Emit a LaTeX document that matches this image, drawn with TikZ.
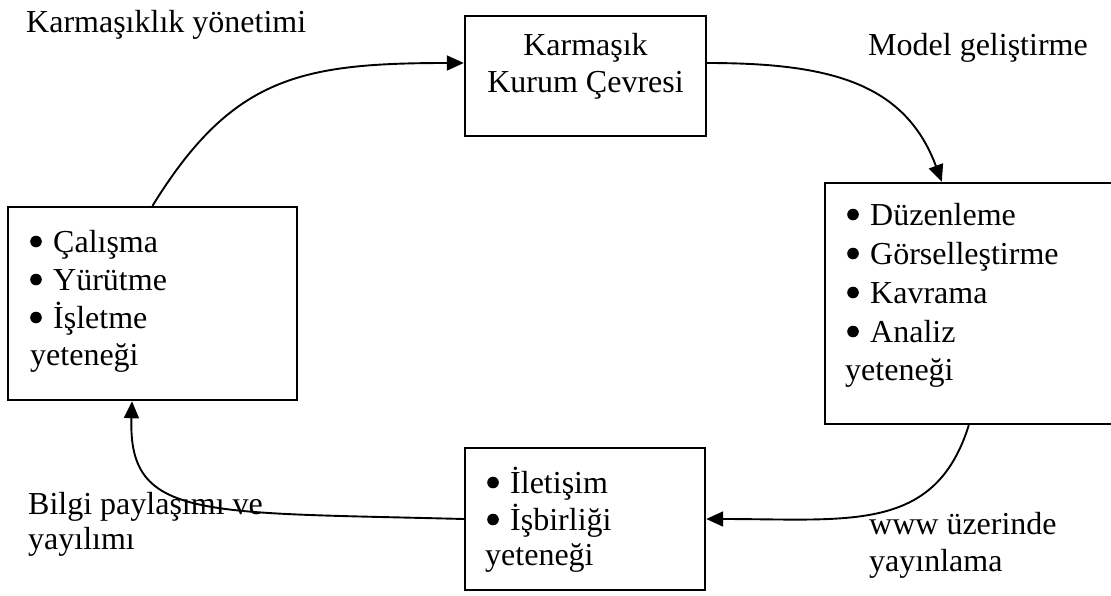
\documentclass[tikz,border=0pt]{standalone}
\usepackage{fontspec}
\setmainfont{Liberation Serif}
\usetikzlibrary{arrows.meta}
% round bullet followed by a fixed gap before the item text
\newcommand\itembul{\makebox[23pt][l]{\tikz[baseline=0pt,x=1pt,y=1pt]\fill (5.8,10.5) circle[radius=5.8];}}
\begin{document}
\begin{tikzpicture}[x=1pt,y=-1pt,
  box/.style={draw,line width=2.4pt,inner sep=0pt,rectangle},
  txt/.style={inner sep=0pt,anchor=base west,font=\fontsize{32}{38}\selectfont},
  ctxt/.style={txt,anchor=base},
  link/.style={line width=1.9pt,-{Triangle[length=17pt,width=15pt]}}]
\useasboundingbox (0,0) rectangle (1111,595);
\fill[white] (0,0) rectangle (1111,595);
\clip (0,0) rectangle (1111,595);

% boxes
\node[box,minimum width=241pt,minimum height=120pt] (T) at (585.5,76) {};
\node[box,minimum width=289pt,minimum height=193pt] (L) at (152.5,303.5) {};
\node[box,minimum width=310pt,minimum height=241pt] (R) at (980,303.5) {};
\node[box,minimum width=240pt,minimum height=142pt] (B) at (585,519) {};

% text of the top box
\node[ctxt] (t1) at (585.5,55) {Karmaşık};
\node[ctxt] (t2) at (585.5,92) {Kurum Çevresi};

% text of the left box
\node[txt] (l1) at (30,252) {\itembul Çalışma};
\node[txt] (l2) at (30,290) {\itembul Yürütme};
\node[txt] (l3) at (30,328) {\itembul İşletme};
\node[txt] (l4) at (30,365) {yeteneği};

% text of the right box
\node[txt] (r1) at (847,225) {\itembul Düzenleme};
\node[txt] (r2) at (847,264) {\itembul Görselleştirme};
\node[txt] (r3) at (847,303) {\itembul Kavrama};
\node[txt] (r4) at (847,342) {\itembul Analiz};
\node[txt] (r5) at (845,380) {yeteneği};

% text of the bottom box
\node[txt] (b1) at (487,493) {\itembul İletişim};
\node[txt] (b2) at (487,530) {\itembul İşbirliği};
\node[txt] (b3) at (485,565) {yeteneği};

% labels of the cycle steps
\node[txt] (k1) at (26,32) {Karmaşıklık yönetimi};
\node[txt] (m1) at (868,55) {Model geliştirme};
\node[txt] (w1) at (869,534) {www üzerinde};
\node[txt] (w2) at (869,571) {yayınlama};
\node[txt] (p1) at (28,514) {Bilgi paylaşımı ve};
\node[txt] (p2) at (28,549) {yayılımı};

% cycle connectors
\draw[link] (L.north) .. controls (232,77) and (300,63) .. ([yshift=13pt]T.west);
\draw[link] ([yshift=13pt]T.east) .. controls (830,63) and (905,83) .. ([xshift=118pt]R.north west);
\draw[link] ([xshift=145pt]R.south west) .. controls (935,533) and (850,519) .. (B.east);
\draw[link] (B.west) .. controls (200,512) and (128,520) .. ([xshift=-20.5pt]L.south);
\end{tikzpicture}
\end{document}
